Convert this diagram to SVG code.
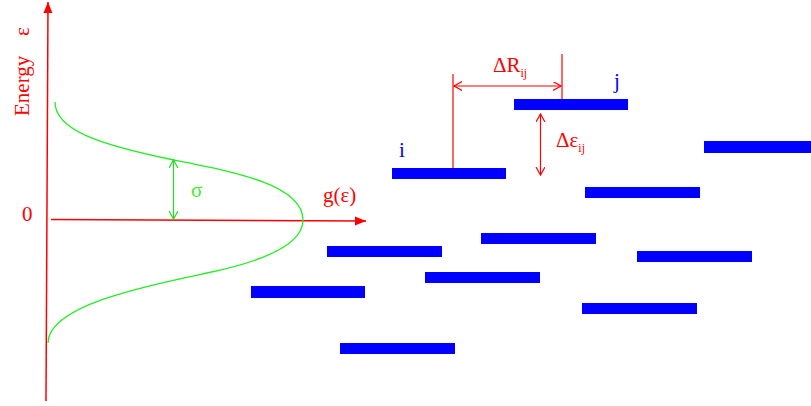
<svg xmlns="http://www.w3.org/2000/svg" width="811" height="406" viewBox="0 0 811 406">
<style>
.t{font-family:"Liberation Serif","Times New Roman",serif;font-size:21px}
.red{fill:#ff0000}
.blue{fill:#0000ff}
.grn{fill:#44ee22}
.bar{fill:#0000ff}
.ax{stroke:#ff0000;stroke-width:1.5;fill:none}
.ra{stroke:#ff0000;stroke-width:1.2;fill:none}
.ga{stroke:#22dd22;stroke-width:1.2;fill:none}
</style>
<defs>
<marker id="fa" markerUnits="userSpaceOnUse" markerWidth="12" markerHeight="10" refX="11" refY="4.5" orient="auto">
<path d="M0,0 L11,4.5 L0,9 z" fill="#ff0000"/>
</marker>
<marker id="rv" markerUnits="userSpaceOnUse" markerWidth="10" markerHeight="10" refX="8" refY="4.5" orient="auto-start-reverse">
<path d="M0,0 L8,4.5 L0,9" fill="none" stroke="#ff0000" stroke-width="1.2"/>
</marker>
<marker id="gv" markerUnits="userSpaceOnUse" markerWidth="10" markerHeight="10" refX="8" refY="4.5" orient="auto-start-reverse">
<path d="M0,0 L8,4.5 L0,9" fill="none" stroke="#22dd22" stroke-width="1.2"/>
</marker>
</defs>
<g id="axes">
<line class="ax" x1="46" y1="401" x2="48" y2="2" marker-end="url(#fa)"/>
<line class="ax" x1="51" y1="219.5" x2="366" y2="221" marker-end="url(#fa)"/>
<text class="t red" transform="translate(29,116) rotate(-90)" font-size="20">Energy<tspan x="80">ε</tspan></text>
<text class="t red" x="22" y="221">0</text>
<text class="t red" x="323" y="202">g(ε)</text>
</g>
<g id="dos">
<path d="M55,102 C55,130 100,145 174,160 C235,172 303,185 303,220 C303,245 260,262 207,273 C150,285 48,305 48,343" fill="none" stroke="#22ee22" stroke-width="1.3"/>
</g>
<g id="connectors">
<line class="ga" x1="173.5" y1="160" x2="173.5" y2="219" marker-start="url(#gv)" marker-end="url(#gv)"/>
<line class="ra" x1="453" y1="74" x2="453" y2="168"/>
<line class="ra" x1="562" y1="54" x2="562" y2="99"/>
<line class="ra" x1="454" y1="86" x2="561" y2="86" marker-start="url(#rv)" marker-end="url(#rv)"/>
<line class="ra" x1="540.5" y1="114" x2="540.5" y2="175" marker-start="url(#rv)" marker-end="url(#rv)"/>
</g>
<g id="labels">
<text class="t grn" x="191" y="197">σ</text>
<text class="t red" x="493" y="72">ΔR<tspan font-size="12" dy="5">ij</tspan></text>
<text class="t red" x="556" y="147">Δε<tspan font-size="12" dy="5">ij</tspan></text>
<text class="t blue" x="399" y="157">i</text>
<text class="t blue" x="614" y="88">j</text>
</g>
<g id="sites">
<rect id="site-i" class="bar" x="392" y="168" width="114" height="11"/>
<rect id="site-j" class="bar" x="514" y="99" width="114" height="11"/>
<rect id="site-3" class="bar" x="704" y="141" width="107" height="12"/>
<rect id="site-4" class="bar" x="585" y="187" width="115" height="11"/>
<rect id="site-5" class="bar" x="327" y="246" width="115" height="11"/>
<rect id="site-6" class="bar" x="481" y="233" width="115" height="11"/>
<rect id="site-7" class="bar" x="637" y="251" width="115" height="11"/>
<rect id="site-8" class="bar" x="425" y="272" width="115" height="11"/>
<rect id="site-9" class="bar" x="251" y="286" width="114" height="12"/>
<rect id="site-10" class="bar" x="582" y="303" width="115" height="11"/>
<rect id="site-11" class="bar" x="340" y="343" width="115" height="11"/>
</g>
</svg>
